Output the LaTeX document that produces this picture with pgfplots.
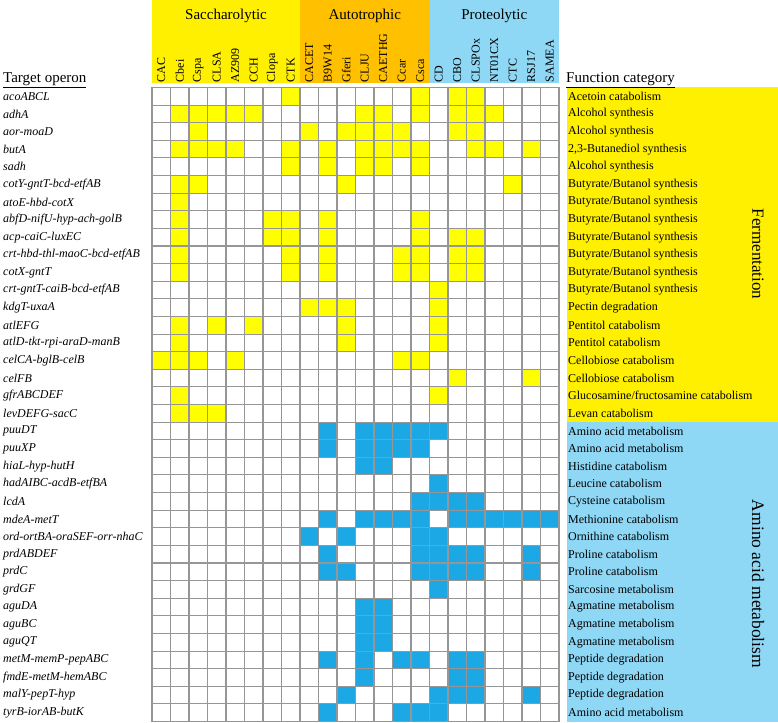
\documentclass[border=0pt]{standalone}
\usepackage{pgfplots}
\pgfplotsset{compat=1.18}
\usepackage{fontspec}
\setmainfont{Liberation Serif}
\definecolor{cellY}{RGB}{255,255,0}
\definecolor{cellB}{RGB}{27,168,228}
\definecolor{hdrY}{RGB}{255,240,0}
\definecolor{hdrO}{RGB}{255,192,0}
\definecolor{hdrB}{RGB}{142,215,245}
\definecolor{gridg}{RGB}{150,150,150}
\pgfdeclareplotmark{cell}{\pgfpathrectanglecorners{\pgfqpoint{-9.3pt}{-8.85pt}}{\pgfqpoint{9.3pt}{8.85pt}}\pgfusepathqfill}
\begin{document}
\begin{tikzpicture}
\path[use as bounding box] (0,0) rectangle (778pt,-722pt);
% header bands
\fill[hdrY] (152pt,0pt) rectangle (300pt,-83pt);
\fill[hdrO] (300pt,0pt) rectangle (429.5pt,-83pt);
\fill[hdrB] (429.5pt,0pt) rectangle (559pt,-83pt);
\node[anchor=base, font=\fontsize{15}{17}\selectfont] at (226pt,-20pt) {Saccharolytic};
\node[anchor=base, font=\fontsize{15}{17}\selectfont] at (364.75pt,-20pt) {Autotrophic};
\node[anchor=base, font=\fontsize{15}{17}\selectfont] at (494.25pt,-20pt) {Proteolytic};
% right panels
\fill[hdrY] (566.5pt,-87.5pt) rectangle (778pt,-422pt);
\fill[hdrB] (566.5pt,-422pt) rectangle (778pt,-722pt);
\node[anchor=base west, inner sep=0pt, font=\fontsize{15}{17}\selectfont] at (3pt,-83pt) {\underline{Target operon}};
\node[anchor=base west, inner sep=0pt, font=\fontsize{15}{17}\selectfont] at (566pt,-83pt) {\underline{Function category}};
\begin{axis}[
  at={(152pt,-87.5pt)}, anchor=north west,
  scale only axis, width=407pt, height=634pt,
  xmin=-0.5, xmax=21.5, ymin=-0.5, ymax=35.5,
  y dir=reverse,
  axis line style={draw=gridg, line width=1.1pt},
  xtick={0,...,21},
  xticklabels={CAC,Cbei,Cspa,CLSA,AZ909,CCH,Clopa,CTK,CACET,B9W14,Gferi,CLJU,CAETHG,Ccar,Csca,CD,CBO,CLSPOx,NT01CX,CTC,RSJ17,SAMEA},
  xticklabel pos=upper,
  xticklabel shift=5pt,
  xticklabel style={rotate=90, anchor=west, inner sep=0pt, font=\fontsize{12}{14}\selectfont},
  ytick={0,...,35},
  yticklabels={acoABCL,adhA,aor-moaD,butA,sadh,cotY-gntT-bcd-etfAB,atoE-hbd-cotX,abfD-nifU-hyp-ach-golB,acp-caiC-luxEC,crt-hbd-thl-maoC-bcd-etfAB,cotX-gntT,crt-gntT-caiB-bcd-etfAB,kdgT-uxaA,atlEFG,atlD-tkt-rpi-araD-manB,celCA-bglB-celB,celFB,gfrABCDEF,levDEFG-sacC,puuDT,puuXP,hiaL-hyp-hutH,hadAIBC-acdB-etfBA,lcdA,mdeA-metT,ord-ortBA-oraSEF-orr-nhaC,prdABDEF,prdC,grdGF,aguDA,aguBC,aguQT,metM-memP-pepABC,fmdE-metM-hemABC,malY-pepT-hyp,tyrB-iorAB-butK},
  yticklabel style={anchor=west, inner sep=0pt, xshift=-149pt, font=\fontsize{12}{14}\selectfont\itshape},
  major tick length=0pt,
]
% Fermentation genes present (yellow)
\addplot[only marks, mark=cell, color=cellY] coordinates {
(7,0)(14,0)(16,0)(17,0)
(1,1)(2,1)(3,1)(4,1)(5,1)(11,1)(12,1)(14,1)(16,1)(17,1)(18,1)
(2,2)(8,2)(10,2)(11,2)(12,2)(13,2)(16,2)(17,2)
(1,3)(2,3)(3,3)(4,3)(7,3)(9,3)(11,3)(12,3)(13,3)(14,3)(17,3)(18,3)(20,3)
(7,4)(9,4)(11,4)(12,4)(14,4)
(1,5)(2,5)(10,5)(19,5)
(1,6)
(1,7)(6,7)(7,7)(9,7)(14,7)
(1,8)(6,8)(7,8)(9,8)(14,8)(16,8)(17,8)
(1,9)(7,9)(9,9)(13,9)(14,9)(16,9)(17,9)
(1,10)(7,10)(9,10)(13,10)(14,10)(16,10)(17,10)
(15,11)
(8,12)(9,12)(10,12)(15,12)
(1,13)(3,13)(5,13)(10,13)(15,13)
(1,14)(10,14)(15,14)
(0,15)(1,15)(2,15)(4,15)(13,15)(14,15)
(16,16)(20,16)
(1,17)(15,17)
(1,18)(2,18)(3,18)
};
% Amino acid metabolism genes present (blue)
\addplot[only marks, mark=cell, color=cellB] coordinates {
(9,19)(11,19)(12,19)(13,19)(14,19)(15,19)
(9,20)(11,20)(12,20)(13,20)(14,20)
(11,21)(12,21)
(15,22)
(14,23)(15,23)(16,23)(17,23)
(9,24)(11,24)(12,24)(13,24)(14,24)(16,24)(17,24)(18,24)(19,24)(20,24)(21,24)
(8,25)(10,25)(14,25)(15,25)
(9,26)(14,26)(15,26)(16,26)(17,26)(20,26)
(9,27)(10,27)(14,27)(15,27)(16,27)(17,27)(20,27)
(15,28)
(11,29)(12,29)
(11,30)(12,30)
(11,31)(12,31)
(9,32)(11,32)(13,32)(14,32)(16,32)(17,32)
(11,33)(16,33)(17,33)
(10,34)(15,34)(16,34)(17,34)(20,34)
(9,35)(13,35)(14,35)(15,35)
};
\end{axis}
% cell grid lines (drawn over the cells)
\foreach \k in {0,...,22}{
  \draw[gridg, line width=1.1pt] ({152pt+18.5pt*\k},-87.5pt) -- ({152pt+18.5pt*\k},-721.5pt);
}
\foreach \k in {0,...,36}{
  \draw[gridg, line width=1.1pt] (152pt,{-87.5pt-17.6111pt*\k}) -- (559pt,{-87.5pt-17.6111pt*\k});
}
\foreach \lab [count=\i from 0] in {Acetoin catabolism, Alcohol synthesis, Alcohol synthesis, {2,3-Butanediol synthesis}, Alcohol synthesis, Butyrate/Butanol synthesis, Butyrate/Butanol synthesis, Butyrate/Butanol synthesis, Butyrate/Butanol synthesis, Butyrate/Butanol synthesis, Butyrate/Butanol synthesis, Butyrate/Butanol synthesis, Pectin degradation, Pentitol catabolism, Pentitol catabolism, Cellobiose catabolism, Cellobiose catabolism, Glucosamine/fructosamine catabolism, Levan catabolism, Amino acid metabolism, Amino acid metabolism, Histidine catabolism, Leucine catabolism, Cysteine catabolism, Methionine catabolism, Ornithine catabolism, Proline catabolism, Proline catabolism, Sarcosine metabolism, Agmatine metabolism, Agmatine metabolism, Agmatine metabolism, Peptide degradation, Peptide degradation, Peptide degradation, Amino acid metabolism}
{
  \node[anchor=west, inner sep=0pt, font=\fontsize{12}{14}\selectfont] at (568pt, {-87.5pt-17.6111pt*(\i+0.5)}) {\lab};
}
\node[rotate=-90, font=\fontsize{17}{19}\selectfont] at (758pt,-254pt) {Fermentation};
\node[rotate=-90, font=\fontsize{17.5}{19}\selectfont] at (758pt,-584pt) {Amino acid metabolism};
\end{tikzpicture}
\end{document}
